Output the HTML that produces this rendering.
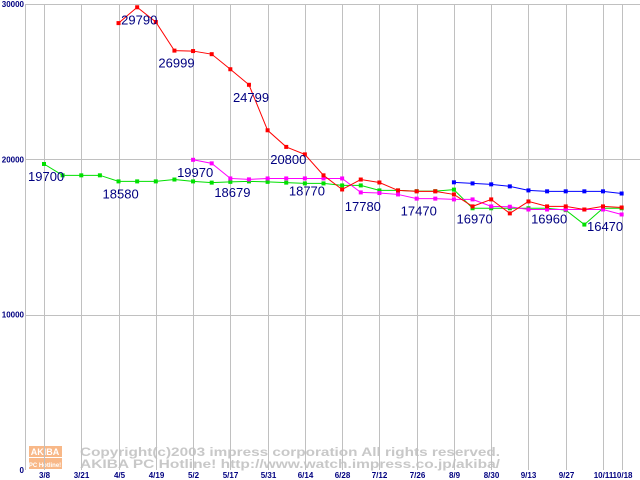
<!DOCTYPE html>
<html><head><meta charset="utf-8"><style>
body{margin:0;background:#fff}
svg{display:block}
text{font-family:"Liberation Sans",sans-serif}
</style></head><body>
<svg id="chart" width="640" height="480" viewBox="0 0 640 480" xmlns="http://www.w3.org/2000/svg">
<g id="watermark">
<rect x="29" y="446" width="33" height="11" fill="#f8b888"/>
<rect x="29" y="458" width="33" height="11" fill="#f8b888"/>
<text x="45" y="455" font-size="9" fill="#fff" text-anchor="middle" font-weight="bold">AKIBA</text>
<text x="45" y="467" font-size="6" fill="#fff" text-anchor="middle" font-weight="bold">PC Hotline!</text>
<text x="80" y="456" font-size="12" fill="#c8c8c8" font-family="Liberation Mono" font-weight="bold" textLength="420" lengthAdjust="spacingAndGlyphs">Copyright(c)2003 impress corporation All rights reserved.</text>
<text x="80" y="468" font-size="12" fill="#c8c8c8" font-family="Liberation Mono" font-weight="bold" textLength="420" lengthAdjust="spacingAndGlyphs">AKIBA PC Hotline!  http://www.watch.impress.co.jp/akiba/</text>
</g>
<g id="grid"></g>
<g id="series"></g>
<g id="labels"></g>
</svg>
<script>
const xLabels=["3/8","3/21","4/5","4/19","5/2","5/17","5/31","6/14","6/28","7/12","7/26","8/9","8/30","9/13","9/27","10/11","10/18"];
const xLabelIdx=[0,2,4,6,8,10,12,14,16,18,20,22,24,26,28,30,31];
const yTicks=[0,10000,20000,30000];
const green=[19700,18970,18970,18970,18580,18580,18580,18700,18580,18500,18550,18580,18550,18500,18450,18450,18320,18320,18000,18000,17950,17950,18050,16850,16850,16850,16850,16850,16730,15800,16850,16850];
const redStart=4;
const red=[28770,29790,28840,26999,26970,26770,25800,24799,21870,20800,20320,18970,18060,18700,18510,18000,17940,17940,17740,16970,17420,16520,17290,16970,16970,16770,16970,16900];
const magStart=8;
const magenta=[19970,19740,18770,18710,18770,18770,18770,18770,18770,17870,17830,17740,17470,17470,17420,17420,16970,16950,16770,16770,16770,16770,16770,16450];
const blueStart=22;
const blue=[18520,18450,18390,18260,18000,17940,17940,17940,17940,17800];
const annTexts=["29790","26999","24799","20800","19700","18580","19970","18679","18770","17780","17470","16970","16960","16470"];
const annIdx=[5,7,11,13,0,4,8,10,14,17,20,23,27,30];
const annVal=[29790,26999,24799,20800,19700,18580,19970,18679,18770,17780,17470,16970,16960,16470];

const NS="http://www.w3.org/2000/svg";
const X=i=>44+i*18.633;
const Y=v=>470-v*(466/30000);
function mk(tag,attrs,parent){const e=document.createElementNS(NS,tag);for(const k in attrs)e.setAttribute(k,attrs[k]);parent.appendChild(e);return e;}
const grid=document.getElementById('grid');
const ser=document.getElementById('series');
const lab=document.getElementById('labels');
let l=mk('line',{x1:25.5,y1:4,x2:25.5,y2:470,stroke:'#c0c0c0'},grid);


yTicks.forEach(v=>{
  if(v>0){const g=mk('line',{x1:25,y1:Math.round(Y(v))+0.5,x2:640,y2:Math.round(Y(v))+0.5,stroke:'#c0c0c0'},grid);
  
  }
  const t=mk('text',{x:24,y:Y(v)+3,'font-size':8,'font-weight':'bold',fill:'#000080','text-anchor':'end'},lab);
  t.textContent=String(v);
  
  
});
xLabelIdx.forEach((i,k)=>{
  const x=Math.round(X(i))+0.5;
  const g=mk('line',{x1:x,y1:4,x2:x,y2:470,stroke:'#c0c0c0'},grid);
  
  
  const t=mk('text',{x:x,y:478,'font-size':8,'font-weight':'bold',fill:'#000080','text-anchor':'middle'},lab);
  t.textContent=xLabels[k];
  
  
});
function draw(arr,start,color,name){
  const pts=arr.map((v,j)=>[X(start+j),Y(v)]);
  const p=mk('polyline',{points:pts.map(p=>p.join(',')).join(' '),fill:'none',stroke:color,'stroke-width':1},ser);
  
  
  pts.forEach(q=>{const r=mk('rect',{x:q[0]-2,y:q[1]-2,width:4,height:4,fill:color},ser);
    
    });
}
draw(green,0,'#00e000','green-series');
draw(magenta,magStart,'#ff00ff','magenta-series');
draw(red,redStart,'#ff0000','red-series');
draw(blue,blueStart,'#0000ff','blue-series');
annTexts.forEach((s,k)=>{
  const t=mk('text',{x:X(annIdx[k])-16,y:Y(annVal[k])+17,'font-size':13,fill:'#000080'},lab);
  t.textContent=s;
  
  
});
</script>
</body></html>
